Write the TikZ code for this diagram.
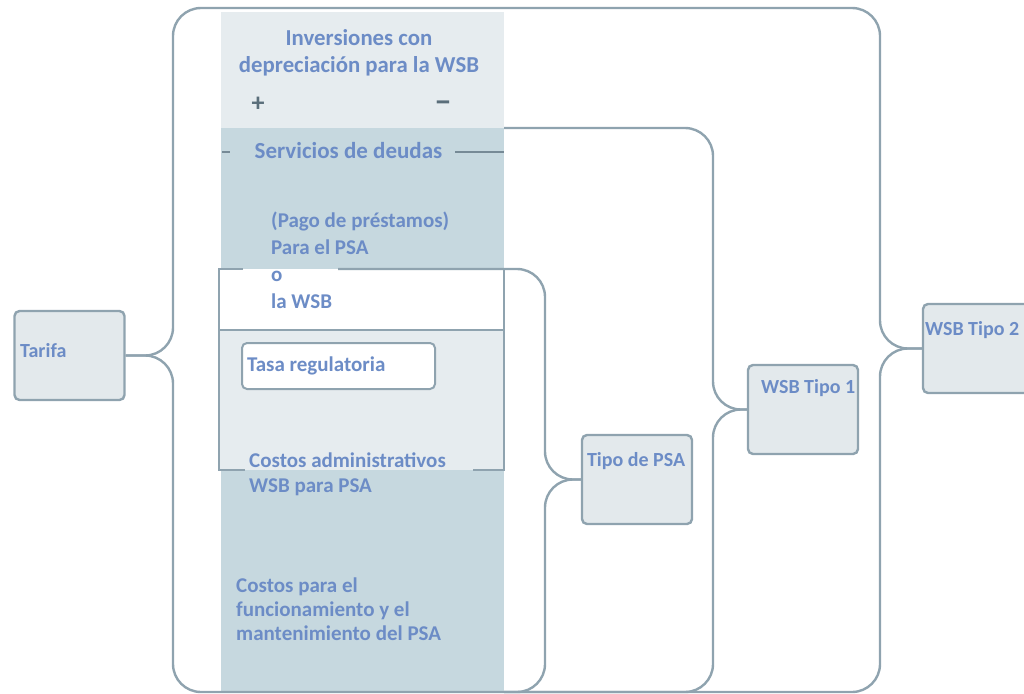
\documentclass[tikz,border=0pt]{standalone}
\usepackage{fontspec}
\setmainfont{Carlito}
\usetikzlibrary{positioning}
\definecolor{lineC}{RGB}{143,163,175}
\definecolor{dashC}{RGB}{118,138,150}
\definecolor{txtC}{RGB}{108,140,198}
\definecolor{paleC}{RGB}{230,236,239}
\definecolor{bandC}{RGB}{198,216,223}
\definecolor{boxC}{RGB}{227,233,236}
\definecolor{signC}{RGB}{90,110,122}
\tikzset{
  brace/.style={draw=lineC, line width=2.4pt, rounded corners=28pt},
  edge/.style={draw=lineC, line width=2.4pt},
  box/.style={draw=lineC, line width=2.4pt, fill=boxC, rounded corners=5pt,
    minimum width=110pt, minimum height=89pt, inner sep=0pt},
  lbl/.style={text=txtC, font=\fontsize{20}{24}\selectfont\bfseries,
    inner sep=0pt, anchor=base west},
  coltxt/.style={text=txtC, font=\fontsize{21}{26}\selectfont\bfseries,
    inner sep=0pt, align=left, anchor=base west},
  sign/.style={text=signC, font=\fontsize{26}{26}\selectfont\bfseries, inner sep=0pt, anchor=base}
}
\begin{document}
\begin{tikzpicture}[x=1pt,y=-1pt]
\useasboundingbox (0,0) rectangle (1024,693);
% column of the cost items
\fill[paleC] (221,12) rectangle (504,128);
\fill[bandC] (221,128) rectangle (504,693);
\fill[white] (219,269) rectangle (504,330);
\fill[paleC] (219,330) rectangle (504,470);
\draw[edge] (243,269) -| (219,470) -- (245,470);
\draw[edge] (473,470) -| (504,269);
\draw[edge] (219,330) -- (504,330);
\node[draw=lineC, line width=2pt, fill=white, rounded corners=5pt, minimum width=193pt,
  minimum height=46pt, text width=183pt, align=flush left, inner sep=0pt,
  text=txtC, font=\fontsize{21}{26}\selectfont\bfseries] (tasa) at (338.5,366) {Tasa regulatoria};
% boxes
\node[box] (tarifa) at (69.5,355.5) {};
\node[box] (psa) at (637,479.5) {};
\node[box] (wsbA) at (803,409.5) {};
\node[box, minimum width=120pt] (wsbB) at (983,348.5) {};
\node[lbl] (tarifaT) at (20,357) {Tarifa};
\node[lbl] (psaT) at ([shift={(6,33)}]psa.north west) {Tipo de PSA};
\node[lbl] (wsbAT) at ([shift={(14,30)}]wsbA.north west) {WSB Tipo 1};
\node[lbl] (wsbBT) at ([shift={(3,33)}]wsbB.north west) {WSB Tipo 2};
% braces
\draw[brace] (tarifa.east) -| (173,8) -- (880,8) |- (wsbB.west);
\draw[brace] (tarifa.east) -| (173,692) -- (880,692) |- (wsbB.west);
\draw[brace] (504,128) -- (713,128) |- (wsbA.west);
\draw[brace] (504,692) -- (713,692) |- (wsbA.west);
\draw[brace] (338,269) -- (545,269) |- (psa.west);
\draw[brace] (504,692) -- (545,692) |- (psa.west);
% texts
\node[coltxt, align=center, anchor=base, font=\fontsize{22.8}{27}\selectfont\bfseries]
  (inv) at (359,72) {Inversiones con\\depreciación para la WSB};
\node[sign] (plus) at (258,111) {+};
\node[sign, font=\fontsize{32}{32}\selectfont\bfseries] (minus) at (443,112) {−};
\node[coltxt, anchor=base, font=\fontsize{23}{26}\selectfont\bfseries] (deuda) at (348.5,158) {Servicios de deudas};
\coordinate (dL1) at (222,152);
\coordinate (dR1) at (455,152);
\draw[dashC, line width=2pt] (dL1) -- ++(8,0);
\draw[dashC, line width=2pt] (dR1) -- (504,152);
\node[coltxt, font=\fontsize{21}{27}\selectfont\bfseries] (pago) at (271,308)
  {(Pago de préstamos)\\Para el PSA\\o\\la WSB};
\node[coltxt, font=\fontsize{21}{25}\selectfont\bfseries] (admin) at (249,492)
  {Costos administrativos\\WSB para PSA};
\node[coltxt, font=\fontsize{21}{24}\selectfont\bfseries] (oym) at (236,640)
  {Costos para el\\funcionamiento y el\\mantenimiento del PSA};
\end{tikzpicture}
\end{document}
